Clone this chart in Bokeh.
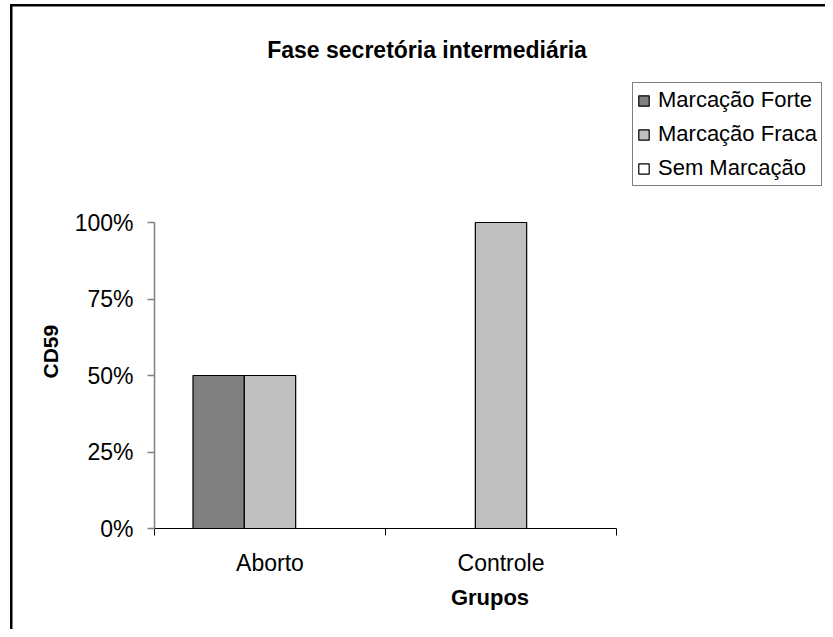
from bokeh.plotting import figure
from bokeh.models import (ColumnDataSource, FixedTicker, NumeralTickFormatter,
                          Legend, LegendItem, Title, Label, Range1d)
from bokeh.embed import file_html
from bokeh.resources import INLINE

# ---- data ----
groups = ["Aborto", "Controle"]
series_names = ["Marcação Forte", "Marcação Fraca", "Sem Marcação"]
forte = [0.50, 0.00]
fraca = [0.50, 1.00]
sem = [0.00, 0.00]
y_ticks = [0, 0.25, 0.5, 0.75, 1.0]
y_max = 1.0
title_text = "Fase secretória intermediária"
x_title = "Grupos"
y_title = "CD59"

# ---- styling / layout (pixels) ----
FONT = "Liberation Sans"
colors = ["#808080", "#C0C0C0", "#FFFFFF"]
bar_w = 1 / 4.5
offsets = [-bar_w, 0.0, bar_w]

W, H = 825, 629
AX_LEFT, AX_RIGHT, AX_TOP, AX_BOTTOM = 154, 616, 222, 528   # plot-area box in the picture

n = len(groups)
x_end = n * (W - AX_LEFT) / (AX_RIGHT - AX_LEFT)
y_end = y_max * AX_BOTTOM / (AX_BOTTOM - AX_TOP)

p = figure(width=W, height=H, output_backend="svg", toolbar_location=None,
           x_range=Range1d(0, x_end), y_range=Range1d(0, y_end))
p.min_border_left = AX_LEFT
p.min_border_right = 0
p.min_border_top = 0
p.min_border_bottom = H - AX_BOTTOM
p.outline_line_color = None
p.grid.visible = False
p.background_fill_alpha = 0
p.border_fill_alpha = 0
# outer chart frame: only its left and top edges fall inside the picture
p.styles = {
    "background": "linear-gradient(#000,#000) 10px 4px / 2.5px 100% no-repeat, "
                  "linear-gradient(#000,#000) 10px 4px / 100% 2.5px no-repeat, #fff"
}

def dx(px):
    return (px - AX_LEFT) / (AX_RIGHT - AX_LEFT) * n
def dy(py):
    return (AX_BOTTOM - py) / (AX_BOTTOM - AX_TOP) * y_max

renderers = []
for vals, off, col in zip([forte, fraca, sem], offsets, colors):
    src = ColumnDataSource(dict(x=[i + 0.5 + off for i in range(n)], top=vals))
    r = p.vbar(x="x", top="top", bottom=0, width=bar_w, source=src,
               fill_color=col, line_color="black", line_width=1.2)
    renderers.append(r)

# x axis
xa = p.xaxis[0]
xa.bounds = (0, n)
xa.ticker = FixedTicker(ticks=[i + 0.5 for i in range(n)],
                        minor_ticks=list(range(n + 1)))
xa.major_label_overrides = {i + 0.5: g for i, g in enumerate(groups)}
xa.major_tick_line_color = None
xa.major_tick_out = 0
xa.major_tick_in = 0
xa.minor_tick_line_color = "black"
xa.minor_tick_out = 7
xa.minor_tick_in = 0
xa.axis_line_color = "black"
xa.axis_line_width = 1.2
xa.major_label_text_font = FONT
xa.major_label_text_font_size = "23px"
xa.major_label_text_color = "black"
xa.major_label_standoff = 14
xa.axis_label = x_title
xa.axis_label_text_font = FONT
xa.axis_label_text_font_style = "bold"
xa.axis_label_text_font_size = "22px"
xa.axis_label_text_color = "black"
xa.axis_label_standoff = 6

# y axis
ya = p.yaxis[0]
ya.bounds = (0, y_max)
ya.ticker = FixedTicker(ticks=y_ticks)
ya.formatter = NumeralTickFormatter(format="0%")
ya.axis_line_color = "#808080"
ya.axis_line_width = 1.5
ya.major_tick_line_color = "#808080"
ya.major_tick_line_width = 1.5
ya.major_tick_out = 7
ya.major_tick_in = 0
ya.minor_tick_line_color = None
ya.major_label_text_font = FONT
ya.major_label_text_font_size = "23px"
ya.major_label_text_color = "black"
ya.major_label_standoff = 14

# chart title
p.add_layout(Label(x=dx(266.7), y=dy(49.3), text=title_text, text_font=FONT,
                   text_font_style="bold", text_font_size="23px", text_color="black",
                   text_align="left", text_baseline="alphabetic"))
# y axis title
p.add_layout(Title(text=y_title, align="left", offset=150, standoff=20,
                   text_font=FONT, text_font_style="bold", text_font_size="21px",
                   text_color="black"), "left")

legend = Legend(items=[LegendItem(label=s, renderers=[r]) for s, r in zip(series_names, renderers)],
                location=(632 - AX_LEFT, AX_BOTTOM - 186))
legend.label_text_font = FONT
legend.label_text_font_size = "22px"
legend.label_text_color = "black"
legend.glyph_width = 13
legend.glyph_height = 13
legend.label_height = 25
legend.label_standoff = 8
legend.spacing = 8
legend.padding = 4
legend.margin = 0
legend.border_line_color = "black"
legend.border_line_width = 1.2
legend.background_fill_color = "white"
legend.background_fill_alpha = 1
p.add_layout(legend, "center")

open("out.html", "w").write(file_html(p, INLINE))
